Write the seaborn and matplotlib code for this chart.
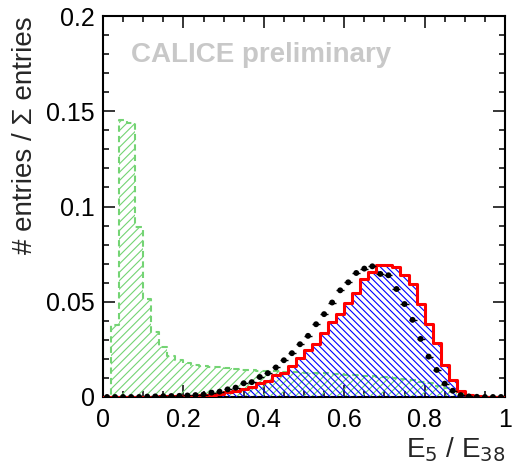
import numpy as np
import pandas as pd
import matplotlib
matplotlib.use("Agg")
import matplotlib.pyplot as plt
import seaborn as sns
from matplotlib.ticker import MultipleLocator, FuncFormatter

# Binning of the energy fraction E5/E38
bin_edges = [round(0.02 * i, 2) for i in range(51)]
bin_centers = [round(e + 0.01, 3) for e in bin_edges[:-1]]

# Simulated electron showers (blue hatched, red outline)
electron_sim = [
    0.0000, 0.0000, 0.0000, 0.0001, 0.0001, 0.0002, 0.0002, 0.0003, 0.0003, 0.0004,
    0.0005, 0.0006, 0.0008, 0.0012, 0.0018, 0.0024, 0.0031, 0.0042, 0.0055, 0.0072,
    0.0086, 0.0114, 0.0128, 0.0163, 0.0204, 0.0247, 0.0277, 0.0335, 0.0393, 0.0437,
    0.0496, 0.0546, 0.0621, 0.0656, 0.0695, 0.0693, 0.0680, 0.0639, 0.0593, 0.0488,
    0.0383, 0.0283, 0.0170, 0.0089, 0.0033, 0.0011, 0.0004, 0.0002, 0.0001, 0.0000,
]

# Simulated hadron showers (green hatched, dashed outline)
hadron_sim = [
    0.0000, 0.0376, 0.1455, 0.1436, 0.0894, 0.0517, 0.0343, 0.0263, 0.0217, 0.0196,
    0.0176, 0.0169, 0.0163, 0.0158, 0.0155, 0.0151, 0.0147, 0.0143, 0.0141, 0.0138,
    0.0136, 0.0134, 0.0133, 0.0132, 0.0130, 0.0128, 0.0127, 0.0125, 0.0122, 0.0120,
    0.0118, 0.0115, 0.0111, 0.0108, 0.0105, 0.0103, 0.0100, 0.0094, 0.0088, 0.0080,
    0.0072, 0.0060, 0.0045, 0.0030, 0.0018, 0.0010, 0.0005, 0.0002, 0.0000, 0.0000,
]

# Measured events (black points)
measured = [
    0.0000, 0.0000, 0.0000, 0.0000, 0.0000, 0.0002, 0.0003, 0.0004, 0.0005, 0.0006,
    0.0008, 0.0010, 0.0013, 0.0023, 0.0028, 0.0040, 0.0049, 0.0072, 0.0078, 0.0105,
    0.0125, 0.0155, 0.0193, 0.0230, 0.0277, 0.0321, 0.0382, 0.0435, 0.0496, 0.0560,
    0.0602, 0.0651, 0.0674, 0.0686, 0.0646, 0.0639, 0.0567, 0.0488, 0.0405, 0.0305,
    0.0212, 0.0142, 0.0070, 0.0033, 0.0010, 0.0003, 0.0001, 0.0000, 0.0000, 0.0000,
]
measured_err = [0.0004] * 50

x_ticks = [0, 0.2, 0.4, 0.6, 0.8, 1]
y_ticks = [0, 0.05, 0.1, 0.15, 0.2]

df = pd.DataFrame({
    "center": bin_centers,
    "electron": electron_sim,
    "hadron": hadron_sim,
    "measured": measured,
    "err": measured_err,
})

sns.set_theme(style="ticks")
plt.rcParams["font.family"] = ["Liberation Sans", "DejaVu Sans"]
plt.rcParams["hatch.linewidth"] = 0.8

GREEN = "#74d474"
BLUE = "#0000ff"
RED = "#ff0000"

fig = plt.figure(figsize=(5.12, 4.73), dpi=100)
ax = fig.add_axes([103 / 512, 1 - 397 / 473, (505 - 103) / 512, (397 - 16) / 473])

# hadron histogram: hatched area + dashed outline
ax.stairs(df["hadron"].to_numpy(), bin_edges, fill=True, hatch="////", facecolor="none",
          edgecolor=GREEN, linewidth=0, zorder=1)
sns.histplot(x=df["center"].to_numpy(), weights=df["hadron"].to_numpy(), bins=bin_edges,
             element="step", fill=False, color=GREEN, linestyle=(0, (3, 2)),
             linewidth=1.5, ax=ax, zorder=2)

# electron histogram: hatched area + red outline
ax.stairs(df["electron"].to_numpy(), bin_edges, fill=True, hatch="\\\\\\\\\\", facecolor="none",
          edgecolor=BLUE, linewidth=0, zorder=3)
sns.histplot(x=df["center"].to_numpy(), weights=df["electron"].to_numpy(), bins=bin_edges,
             element="step", fill=False, color=RED, linewidth=2.2, ax=ax, zorder=4)

# measured points with bin-width error bars
ax.errorbar(df["center"], df["measured"], xerr=0.01, yerr=df["err"], fmt="none",
            ecolor="black", elinewidth=1.0, capsize=0, zorder=5)
sns.scatterplot(data=df, x="center", y="measured", color="black", s=18,
                edgecolor="none", ax=ax, zorder=6)

ax.set_xlim(0, 1)
ax.set_ylim(0, 0.2)
ax.set_xticks(x_ticks)
ax.set_yticks(y_ticks)
ax.xaxis.set_minor_locator(MultipleLocator(0.05))
ax.yaxis.set_minor_locator(MultipleLocator(0.01))
fmt = FuncFormatter(lambda v, _: f"{v:g}")
ax.xaxis.set_major_formatter(fmt)
ax.yaxis.set_major_formatter(fmt)

ax.tick_params(which="both", direction="in", top=True, right=True,
               color="black", width=1.1, labelsize=18, labelcolor="black")
ax.tick_params(which="major", length=8.6)
ax.tick_params(which="minor", length=4.3)
ax.tick_params(axis="x", pad=8)
ax.tick_params(axis="y", pad=6)
for s in ax.spines.values():
    s.set_linewidth(1.5)
    s.set_color("black")

ax.set_xlabel("E$_5$ / E$_{38}$", fontsize=20, loc="right", labelpad=2)
ax.set_ylabel("# entries / \u03a3 entries", fontsize=20, loc="top", labelpad=6)

ax.text(0.07, 0.176, "CALICE preliminary", fontsize=20, fontweight="bold",
        color="#c8c8c8", va="baseline", ha="left")

fig.savefig("out.png", dpi=100)
